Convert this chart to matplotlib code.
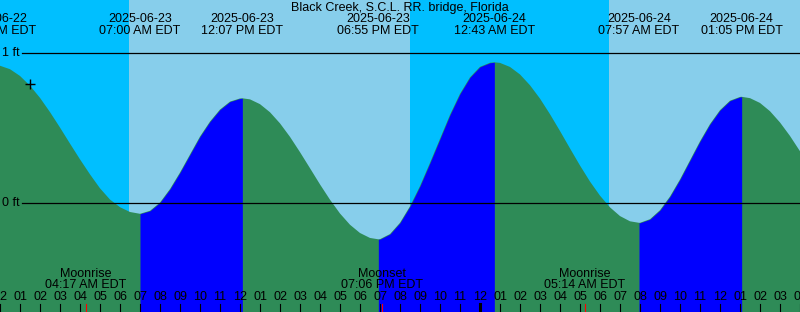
import numpy as np
import matplotlib.pyplot as plt

##========== Data ==========##
title = 'Black Creek, S.C.L. RR. bridge, Florida'

# hours from 12 AM 2025-06-23, tide height in ft
tide_hours = [-0.233, 0.0, 0.5, 1.0, 1.5, 2.0, 2.5, 3.0, 3.5, 4.0, 4.5, 5.0, 5.5, 6.0, 6.5, 7.0,
              7.5, 8.0, 8.5, 9.0, 9.5, 10.0, 10.5, 11.0, 11.5, 12.0, 12.117,
              12.5, 13.0, 13.5, 14.0, 14.5, 15.0, 15.5, 16.0, 16.5, 17.0, 17.5, 18.0, 18.5, 18.917,
              19.0, 19.5, 20.0, 20.5, 21.0, 21.5, 22.0, 22.5, 23.0, 23.5, 24.0, 24.5, 24.717,
              25.0, 25.5, 26.0, 26.5, 27.0, 27.5, 28.0, 28.5, 29.0, 29.5, 30.0, 30.5, 31.0, 31.5, 31.95,
              32.0, 32.5, 33.0, 33.5, 34.0, 34.5, 35.0, 35.5, 36.0, 36.5, 37.0, 37.083,
              37.5, 38.0, 38.5, 39.0, 39.5, 40.0]
tide_heights = [0.92, 0.917, 0.894, 0.849, 0.784, 0.703, 0.608, 0.505, 0.398, 0.293, 0.193, 0.100, 0.025, -0.026, -0.058, -0.07,
                -0.05, 0.005, 0.095, 0.205, 0.325, 0.445, 0.545, 0.625, 0.678, 0.699, 0.70,
                0.693, 0.661, 0.607, 0.533, 0.443, 0.341, 0.234, 0.126, 0.024, -0.068, -0.143, -0.198, -0.231, -0.24,
                -0.239, -0.205, -0.13, -0.02, 0.115, 0.27, 0.43, 0.59, 0.73, 0.84, 0.91, 0.937, 0.94,
                0.936, 0.909, 0.859, 0.787, 0.698, 0.594, 0.482, 0.366, 0.252, 0.145, 0.051, -0.027, -0.085, -0.120, -0.13,
                -0.13, -0.106, -0.046, 0.045, 0.159, 0.286, 0.413, 0.528, 0.621, 0.684, 0.709, 0.71,
                0.701, 0.669, 0.614, 0.539, 0.449, 0.347]

# high / low tide events
event_hours = [-0.233, 7.0, 12.117, 18.917, 24.717, 31.95, 37.083]
event_dates = ['2025-06-22', '2025-06-23', '2025-06-23', '2025-06-23', '2025-06-24', '2025-06-24', '2025-06-24']
event_times = ['11:46 PM EDT', '07:00 AM EDT', '12:07 PM EDT', '06:55 PM EDT', '12:43 AM EDT', '07:57 AM EDT', '01:05 PM EDT']

# sunrise / sunset -> daytime spans
day_spans = [(6.45, 20.5), (30.45, 40.0)]

# moon events
moon_hours = [4.283, 19.1, 29.233]
moon_names = ['Moonrise', 'Moonset', 'Moonrise']
moon_times = ['04:17 AM EDT', '07:06 PM EDT', '05:14 AM EDT']

now_hour, now_height = 1.5, 0.793
ft_levels = [0, 1]

##========== Plot ==========##
W, H = 800, 312
plt.rcParams['font.family'] = ['Liberation Sans', 'DejaVu Sans']
fig = plt.figure(figsize=(W/100, H/100), dpi=100)
ax = fig.add_axes([0, 0, 1, 1])
ax.set_xlim(0, 40)
y_zero, px_ft = 203.3, 150.0
ax.set_ylim((y_zero - H)/px_ft, y_zero/px_ft)
ax.axis('off')

def py(ypix):  # pixel row -> axes fraction
    return 1 - ypix/H

xt = ax.get_xaxis_transform()
fs = 9

# sky
ax.axvspan(-1, 41, color='#00BFFF', lw=0, zorder=0)
for a, b in day_spans:
    ax.axvspan(a, b, color='#87CEEB', lw=0, zorder=0)

# tide: green everywhere, blue where rising
hrs = np.array(tide_hours)
hts = np.array(tide_heights)
bottom = (y_zero - H - 5)/px_ft
ax.fill_between(hrs, bottom, hts, color='#2E8B57', lw=0, zorder=1)
bounds = event_hours + [hrs[-1]]
for a, b in zip(bounds[:-1], bounds[1:]):
    m = (hrs >= a) & (hrs <= b)
    if hts[m][-1] > hts[m][0]:
        ax.fill_between(hrs[m], bottom, hts[m], color='#0000FF', lw=0, zorder=2)

# ft lines
for lv in ft_levels:
    ax.plot([1.1, 40], [lv, lv], color='black', lw=0.9, zorder=3)
    ax.text(0.12, lv, f'{lv} ft', ha='left', va='center', fontsize=fs, zorder=4)

ax.plot(now_hour, now_height, marker='+', color='black', ms=6.5, mew=1, zorder=4)

# title and tide labels
ax.text(20, py(8), title, transform=xt, ha='center', va='center', fontsize=fs)
for h, d, t in zip(event_hours, event_dates, event_times):
    ax.text(h, py(19.5), d, transform=xt, ha='center', va='center', fontsize=fs)
    ax.text(h, py(31.5), t, transform=xt, ha='center', va='center', fontsize=fs)

# moon labels
for h, n, t in zip(moon_hours, moon_names, moon_times):
    ax.text(h, py(274), n, transform=xt, ha='center', va='center', fontsize=fs)
    ax.text(h, py(285.5), t, transform=xt, ha='center', va='center', fontsize=fs)

# hour axis
hours = np.arange(0, 41)
for h in hours:
    lbl = f'{(h % 12) or 12:02d}'
    ax.text(h, py(297.5), lbl, transform=xt, ha='center', va='center', fontsize=fs, zorder=5)
    lw = 2.2 if h == 24 else 0.8
    ax.plot([h, h], [py(304), py(312)], transform=xt, color='black', lw=lw, zorder=5)
for h in moon_hours:
    ax.plot([h, h], [py(304), py(312)], transform=xt, color='red', lw=0.8, zorder=5)

fig.savefig('out.png', dpi=100)
